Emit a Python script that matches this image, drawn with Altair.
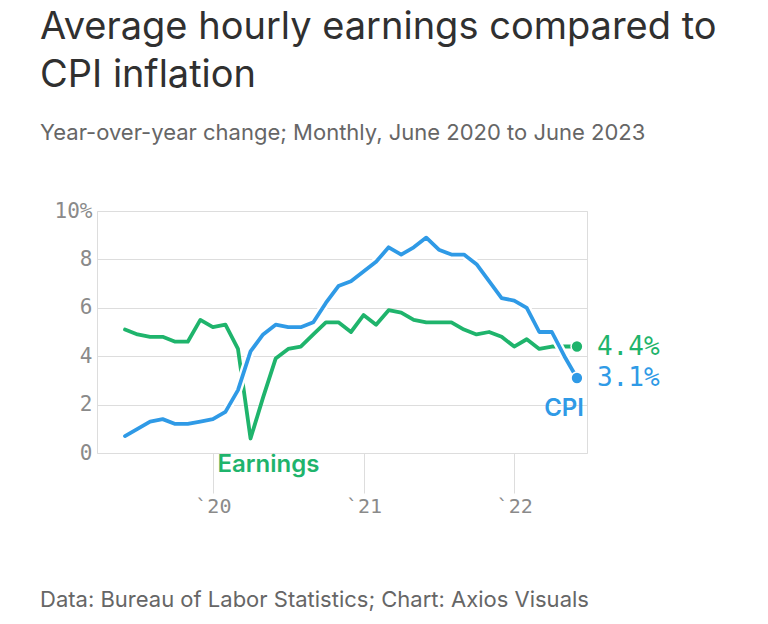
import altair as alt
import pandas as pd

# ---------------- data ----------------
MONTHS = [
    "2020-06", "2020-07", "2020-08", "2020-09", "2020-10", "2020-11", "2020-12",
    "2021-01", "2021-02", "2021-03", "2021-04", "2021-05", "2021-06", "2021-07",
    "2021-08", "2021-09", "2021-10", "2021-11", "2021-12", "2022-01", "2022-02",
    "2022-03", "2022-04", "2022-05", "2022-06", "2022-07", "2022-08", "2022-09",
    "2022-10", "2022-11", "2022-12", "2023-01", "2023-02", "2023-03", "2023-04",
    "2023-05", "2023-06",
]
CPI = [0.7, 1.0, 1.3, 1.4, 1.2, 1.2, 1.3, 1.4, 1.7, 2.6, 4.2, 4.9, 5.3, 5.2,
       5.2, 5.4, 6.2, 6.9, 7.1, 7.5, 7.9, 8.5, 8.2, 8.5, 8.9, 8.4, 8.2, 8.2,
       7.8, 7.1, 6.4, 6.3, 6.0, 5.0, 5.0, 4.0, 3.1]
EARNINGS = [5.1, 4.9, 4.8, 4.8, 4.6, 4.6, 5.5, 5.2, 5.3, 4.3, 0.6, 2.3, 3.9, 4.3,
            4.4, 4.9, 5.4, 5.4, 5.0, 5.7, 5.3, 5.9, 5.8, 5.5, 5.4, 5.4, 5.4, 5.1,
            4.9, 5.0, 4.8, 4.4, 4.7, 4.3, 4.4, 4.4, 4.4]
SERIES = ["CPI", "Earnings"]
TICK_POS = [7, 19, 31]            # January positions (month index)
TICK_LABELS = ["`20", "`21", "`22"]
Y_TICKS = [0, 2, 4, 6, 8, 10]

TITLE_LINES = ["Average hourly earnings compared to", "CPI inflation"]
SUBTITLE = "Year-over-year change; Monthly, June 2020 to June 2023"
SOURCE = "Data: Bureau of Labor Statistics; Chart: Axios Visuals"

# ---------------- table ----------------
rows = []
for i, m in enumerate(MONTHS):
    rows.append({"i": i, "month": m, "series": "CPI", "value": CPI[i]})
    rows.append({"i": i, "month": m, "series": "Earnings", "value": EARNINGS[i]})
df = pd.DataFrame(rows)
last_i = len(MONTHS) - 1
min_earn_i = EARNINGS.index(min(EARNINGS))

BLUE = "#2f9ae6"
GREEN = "#1fb46c"
MONO = "DejaVu Sans Mono"
HEAD = "Inter"

label_map = "{" + ",".join(f"'{p}':'{l}'" for p, l in zip(TICK_POS, TICK_LABELS)) + "}"

x = alt.X(
    "i:Q",
    scale=alt.Scale(domain=[-2.23, 36.8], nice=False, zero=False),
    axis=alt.Axis(
        values=TICK_POS, labelExpr=f"{label_map}[''+datum.value]",
        domain=False, grid=False, tickSize=40, tickColor="#dddddd", tickWidth=1,
        labelFont=MONO, labelFontSize=20, labelColor="#8a8a8a", labelPadding=3,
        title=None,
    ),
)
y = alt.Y(
    "value:Q",
    scale=alt.Scale(domain=[0, 10], nice=False),
    axis=alt.Axis(
        values=Y_TICKS, labelExpr="datum.value == 10 ? '10%' : datum.label",
        domain=False, ticks=False, gridColor="#dddddd", gridWidth=1,
        labelFont=MONO, labelFontSize=21, labelColor="#8a8a8a", labelPadding=5,
        title=None,
    ),
)

base = alt.Chart(df).encode(x=x, y=y)

earn_line = base.transform_filter("datum.series == 'Earnings'").mark_line(
    color=GREEN, strokeWidth=3.8, strokeJoin="round", strokeCap="round")
cpi_halo = base.transform_filter("datum.series == 'CPI'").mark_line(
    color="white", strokeWidth=8.5, strokeJoin="round")
cpi_line = base.transform_filter("datum.series == 'CPI'").mark_line(
    color=BLUE, strokeWidth=3.8, strokeJoin="round", strokeCap="round")

color_scale = alt.Scale(domain=SERIES, range=[BLUE, GREEN])
last = base.transform_filter(f"datum.i == {last_i}")
dots = last.mark_circle(size=140, opacity=1, stroke="white", strokeWidth=1.5).encode(
    color=alt.Color("series:N", scale=color_scale, legend=None))
end_labels = last.transform_calculate(
    lab="format(datum.value, '.1f') + '%'"
).mark_text(align="left", baseline="middle", dx=20, font=MONO, fontSize=26).encode(
    text="lab:N", color=alt.Color("series:N", scale=color_scale, legend=None))

cpi_name = base.transform_filter(
    f"datum.i == {last_i} && datum.series == 'CPI'"
).mark_text(align="right", baseline="middle", dx=7, dy=31, font=HEAD,
            fontSize=24, fontWeight=600, color=BLUE).encode(text="series:N")
earn_name = base.transform_filter(
    f"datum.i == {min_earn_i} && datum.series == 'Earnings'"
).mark_text(align="left", baseline="middle", dx=-33, dy=27, font=HEAD,
            fontSize=24, fontWeight=600, color=GREEN).encode(text="series:N")

def text_layer(txt, yv, size, color, weight=400):
    return alt.Chart(pd.DataFrame({"t": [txt]})).mark_text(
        align="left", baseline="alphabetic", font=HEAD, fontSize=size,
        fontWeight=weight, color=color,
    ).encode(x=alt.value(-57), y=alt.value(yv), text="t:N")

title1 = text_layer(TITLE_LINES[0], -172, 38, "#303030")
title2 = text_layer(TITLE_LINES[1], -124, 38, "#303030")
subtitle = text_layer(SUBTITLE, -71, 22, "#666666")
source = text_layer(SOURCE, 396, 22, "#666666")

chart = alt.layer(
    earn_line, cpi_halo, cpi_line, dots, end_labels, cpi_name, earn_name,
    title1, title2, subtitle, source,
).properties(
    width=490, height=242,
    autosize=alt.AutoSizeParams(type="none"),
    padding={"left": 89, "top": 203, "right": 173, "bottom": 163},
).configure_view(stroke=None).configure(background="white")

chart.save("out.html", embed_options={"renderer": "svg", "actions": False})
